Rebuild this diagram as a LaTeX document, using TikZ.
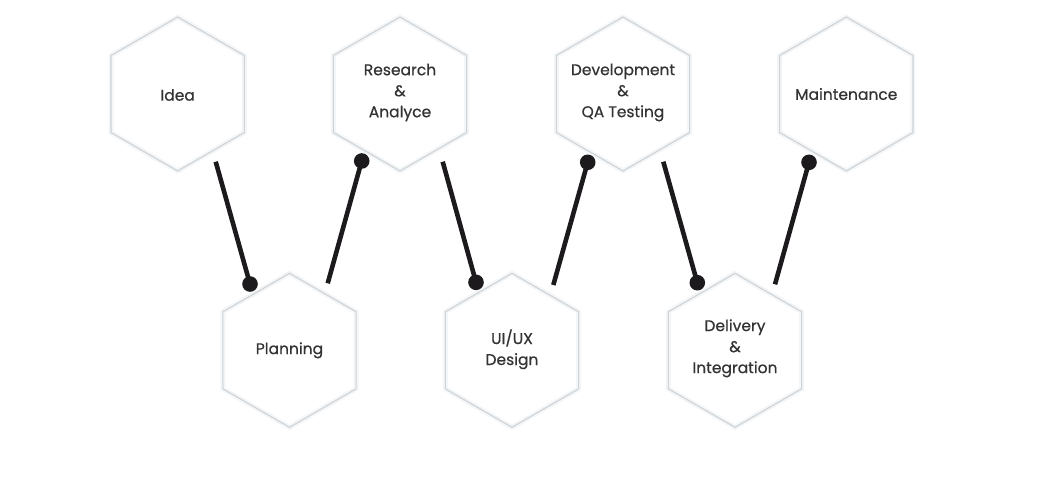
\documentclass[tikz,border=0pt]{standalone}
\usepackage{fontspec}
\setmainfont{Poppins}
\newfontfamily\hexfont{Poppins}[FakeBold=0.6]
\usetikzlibrary{shapes.geometric,calc}
\definecolor{hexline}{HTML}{D0D2D4}
\definecolor{hexglow}{HTML}{F3F6F8}
\definecolor{txt}{HTML}{333333}
\definecolor{conn}{HTML}{1C1A1C}
\tikzset{
  hexbox/.style={regular polygon, regular polygon sides=6, shape border rotate=30,
    minimum size=154pt, inner sep=0pt, draw=hexline, line width=1.1pt,
    preaction={draw=hexglow, line width=5pt}},
  hextext/.style={inner sep=0pt, font=\hexfont\fontsize{15.5}{21}\selectfont,
    text=txt, align=center},
  connline/.style={draw=conn, line width=4.6pt},
  dotend/.style={fill=conn},
}
\begin{document}
\begin{tikzpicture}[x=1pt,y=-1pt]
\useasboundingbox (0,0) rectangle (1040,482);
\node[hexbox] (idea) at (177.7,94) {};
\node[hexbox] (research) at (400,94) {};
\node[hexbox] (dev) at (623,94) {};
\node[hexbox] (maint) at (846.3,94) {};
\node[hexbox] (plan) at (289.5,350.3) {};
\node[hexbox] (ui) at (512,350.3) {};
\node[hexbox] (deliv) at (735,350.3) {};
\node[hextext] (idea-t) at ($(idea.center)+(0,1)$) {Idea};
\node[hextext] (research-t) at ($(research.center)+(0,-1.5)$) {Research\\\&\\Analyce};
\node[hextext] (dev-t) at ($(dev.center)+(0,-1.5)$) {Development\\\&\\QA Testing};
\node[hextext] (maint-t) at ($(maint.center)+(0,0)$) {Maintenance};
\node[hextext] (plan-t) at ($(plan.center)+(0,0)$) {Planning};
\node[hextext] (ui-t) at ($(ui.center)+(0,-1)$) {UI/UX\\Design};
\node[hextext] (deliv-t) at ($(deliv.center)+(0,-2)$) {Delivery\\\&\\Integration};
% connector end points
\coordinate (c1a) at ($(idea.center)+(38,67.7)$);
\coordinate (c1b) at ($(plan.center)+(-39.5,-66.3)$);
\coordinate (c2a) at ($(plan.center)+(38.2,-67)$);
\coordinate (c2b) at ($(research.center)+(-38.3,67)$);
\coordinate (c3a) at ($(research.center)+(42.7,67.7)$);
\coordinate (c3b) at ($(ui.center)+(-36,-68)$);
\coordinate (c4a) at ($(ui.center)+(41.3,-65.3)$);
\coordinate (c4b) at ($(dev.center)+(-35.3,68.3)$);
\coordinate (c5a) at ($(dev.center)+(40.3,67.7)$);
\coordinate (c5b) at ($(deliv.center)+(-37.7,-67.6)$);
\coordinate (c6a) at ($(deliv.center)+(40,-66)$);
\coordinate (c6b) at ($(maint.center)+(-37.3,68.3)$);
\foreach \s/\e in {c1a/c1b,c2a/c2b,c3a/c3b,c4a/c4b,c5a/c5b,c6a/c6b}{
  \draw[connline] (\s) -- (\e);
  \fill[dotend] (\e) circle (7.8pt);
}
\end{tikzpicture}
\end{document}
